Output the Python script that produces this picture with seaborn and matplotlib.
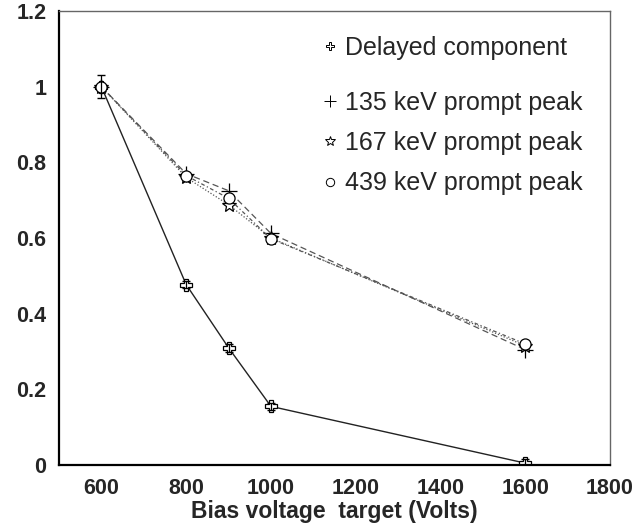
import numpy as np
import pandas as pd
import matplotlib
matplotlib.use("Agg")
import matplotlib.pyplot as plt
from matplotlib.lines import Line2D
from matplotlib.ticker import MultipleLocator
import seaborn as sns

# ---- data ----
voltage = [600, 800, 900, 1000, 1600]
delayed = [1.0, 0.477, 0.31, 0.155, 0.005]
delayed_err = [0.03, 0.01, 0.01, 0.01, 0.01]
prompt_135 = [1.0, 0.77, 0.725, 0.612, 0.305]
prompt_167 = [1.0, 0.76, 0.688, 0.600, 0.315]
prompt_439 = [1.0, 0.765, 0.705, 0.598, 0.320]
labels = ["Delayed component", "135 keV prompt peak",
          "167 keV prompt peak", "439 keV prompt peak"]
xticks = [600, 800, 1000, 1200, 1400, 1600, 1800]
yticks = [0, 0.2, 0.4, 0.6, 0.8, 1.0, 1.2]
yticklabels = ["0", "0.2", "0.4", "0.6", "0.8", "1", "1.2"]
xlabel = "Bias voltage  target (Volts)"

sns.set_style("white")
plt.rcParams["font.family"] = ["Liberation Sans", "DejaVu Sans"]

fig = plt.figure(figsize=(6.37, 5.27), dpi=100)
ax = fig.add_axes([59/637, 62/527, 551/637, 454/527])

series = [delayed, prompt_135, prompt_167, prompt_439]
styles = [
    dict(ls="-", marker="P", ms=8, color="#222222", mfc="white", lw=1.0),
    dict(ls=(0, (5, 3)), marker="+", ms=11, color="#555555", mfc="none", lw=0.9),
    dict(ls=(0, (1, 1.5)), marker="*", ms=10, color="#555555", mfc="white", lw=0.9),
    dict(ls=(0, (3, 2, 1, 2)), marker="o", ms=8, color="#555555", mfc="white", lw=0.9),
]
for vals, st, lab in zip(series, styles, labels):
    df = pd.DataFrame({"V": voltage, "y": vals})
    sns.lineplot(data=df, x="V", y="y", ax=ax, color=st["color"],
                 linestyle=st["ls"], lw=st["lw"], marker=st["marker"],
                 markersize=st["ms"], markerfacecolor=st["mfc"],
                 markeredgecolor="black", markeredgewidth=0.9, legend=False)
ax.errorbar(voltage, delayed, yerr=delayed_err, fmt="none", ecolor="black",
            elinewidth=0.9, capsize=3)

ax.set_xlim(500, 1800)
ax.set_ylim(0, 1.2)
ax.set_xticks(xticks)
ax.set_yticks(yticks)
ax.set_yticklabels(yticklabels)
ax.xaxis.set_minor_locator(MultipleLocator(50))
ax.yaxis.set_minor_locator(MultipleLocator(0.05))
ax.tick_params(axis="both", which="major", direction="in", length=11,
               width=1.0, color="#444444", labelsize=15.5, pad=9)
ax.tick_params(axis="both", which="minor", direction="in", length=6,
               width=1.0, color="#444444")
for t in ax.get_xticklabels() + ax.get_yticklabels():
    t.set_fontweight("bold")
ax.set_xlabel(xlabel, fontsize=16.5, fontweight="bold", labelpad=1)
ax.set_ylabel("")

for s in ["left", "bottom"]:
    ax.spines[s].set_color("black")
    ax.spines[s].set_linewidth(1.6)
for s in ["top", "right"]:
    ax.spines[s].set_color("#666666")
    ax.spines[s].set_linewidth(1.0)

def handle(st):
    return Line2D([], [], ls="none", marker=st["marker"], ms=st["ms"] * 0.75,
                  mfc=st["mfc"], mec="black", mew=0.7)

leg1 = ax.legend([handle(styles[0])], [labels[0]], loc="center left",
                 bbox_to_anchor=(0.474, 0.918), frameon=False, fontsize=18,
                 handlelength=0.8, handletextpad=0.2, borderpad=0,
                 borderaxespad=0)
ax.add_artist(leg1)
ax.legend([handle(s) for s in styles[1:]], labels[1:], loc="center left",
          bbox_to_anchor=(0.474, 0.709), frameon=False, fontsize=18,
          handlelength=0.8, handletextpad=0.2, borderpad=0,
          borderaxespad=0, labelspacing=0.65)

fig.savefig("out.png", dpi=100)
